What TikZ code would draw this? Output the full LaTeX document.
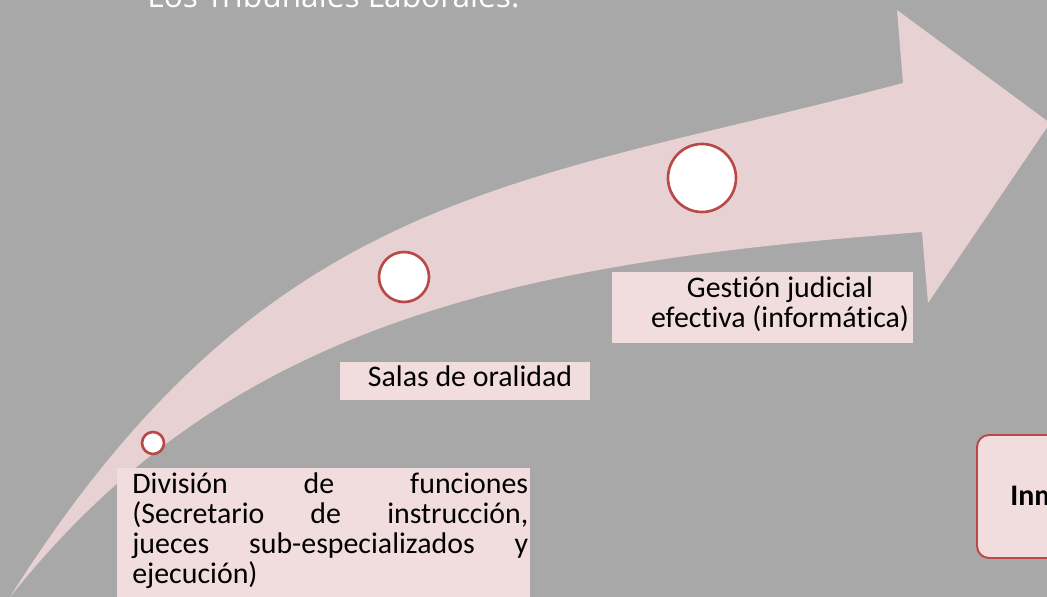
\documentclass[tikz,border=0pt]{standalone}
\usepackage{fontspec}
\setmainfont{Carlito}[Ligatures=NoCommon]
\newfontfamily\titlefont{Open Sans}
\definecolor{fondo}{RGB}{168,168,168}
\definecolor{flecha}{RGB}{231,209,210}
\definecolor{rosaclaro}{RGB}{241,221,221}
\definecolor{rojo}{RGB}{185,72,70}

\begin{document}
\begin{tikzpicture}[x=0.02cm,y=-0.02cm,
 punto/.style={circle,draw=rojo,line width=1.5pt,fill=white,inner sep=0pt},
 caja/.style={fill=rosaclaro},
 texto/.style={font=\fontsize{17}{17.2}\selectfont,inner sep=0pt}]
 \useasboundingbox (0,0) rectangle (1047,597);
 \clip (0,0) rectangle (1047,597);
 \fill[fondo] (0,0) rectangle (1047,597); %fondo
 \node[anchor=base west,text=white,inner sep=0pt,font=\titlefont\fontsize{18}{20}\selectfont] (titulo) at (147,8) {Los Tribunales Laborales.}; %titulo
 \fill[flecha] (10,597) .. controls (270,185) and (520,185) .. (903,83) -- (897,10) -- (1050,123) -- (928,303) -- (922,232) .. controls (520,262) and (230,320) .. (10,597) -- cycle; %flecha
 \node[punto,minimum size=0.44cm] (p1) at (153,443) {};
 \node[punto,minimum size=1cm] (p2) at (404,277) {};
 \node[punto,minimum size=1.36cm] (p3) at (702,178) {};
 \fill[caja] (117,468) rectangle (530,600); %caja 1
 \node[texto,anchor=base west,text width=7.92cm,align=justify] (division) at (132,493) {Divisi\'on de funciones\linebreak (Secretario de instrucci\'on,\linebreak jueces sub-especializados y\linebreak ejecuci\'on)};
 \fill[caja] (340,362) rectangle (590,400); %caja 2
 \node[texto,anchor=base] (salas) at (470,387) {Salas de oralidad};
 \fill[caja] (612,272) rectangle (913,343); %caja 3
 \node[texto,anchor=base,align=center] (gestion) at (780,328) {Gesti\'on judicial\\efectiva (inform\'atica)};
 \draw[caja,draw=rojo,line width=1.1pt,rounded corners=0.24cm] (977,435) rectangle (1080,558); %caja 4
 \node[texto,anchor=base west,font=\bfseries\fontsize{17}{17.2}\selectfont] (inm) at (1010,505) {Inm};
\end{tikzpicture}
\end{document}
